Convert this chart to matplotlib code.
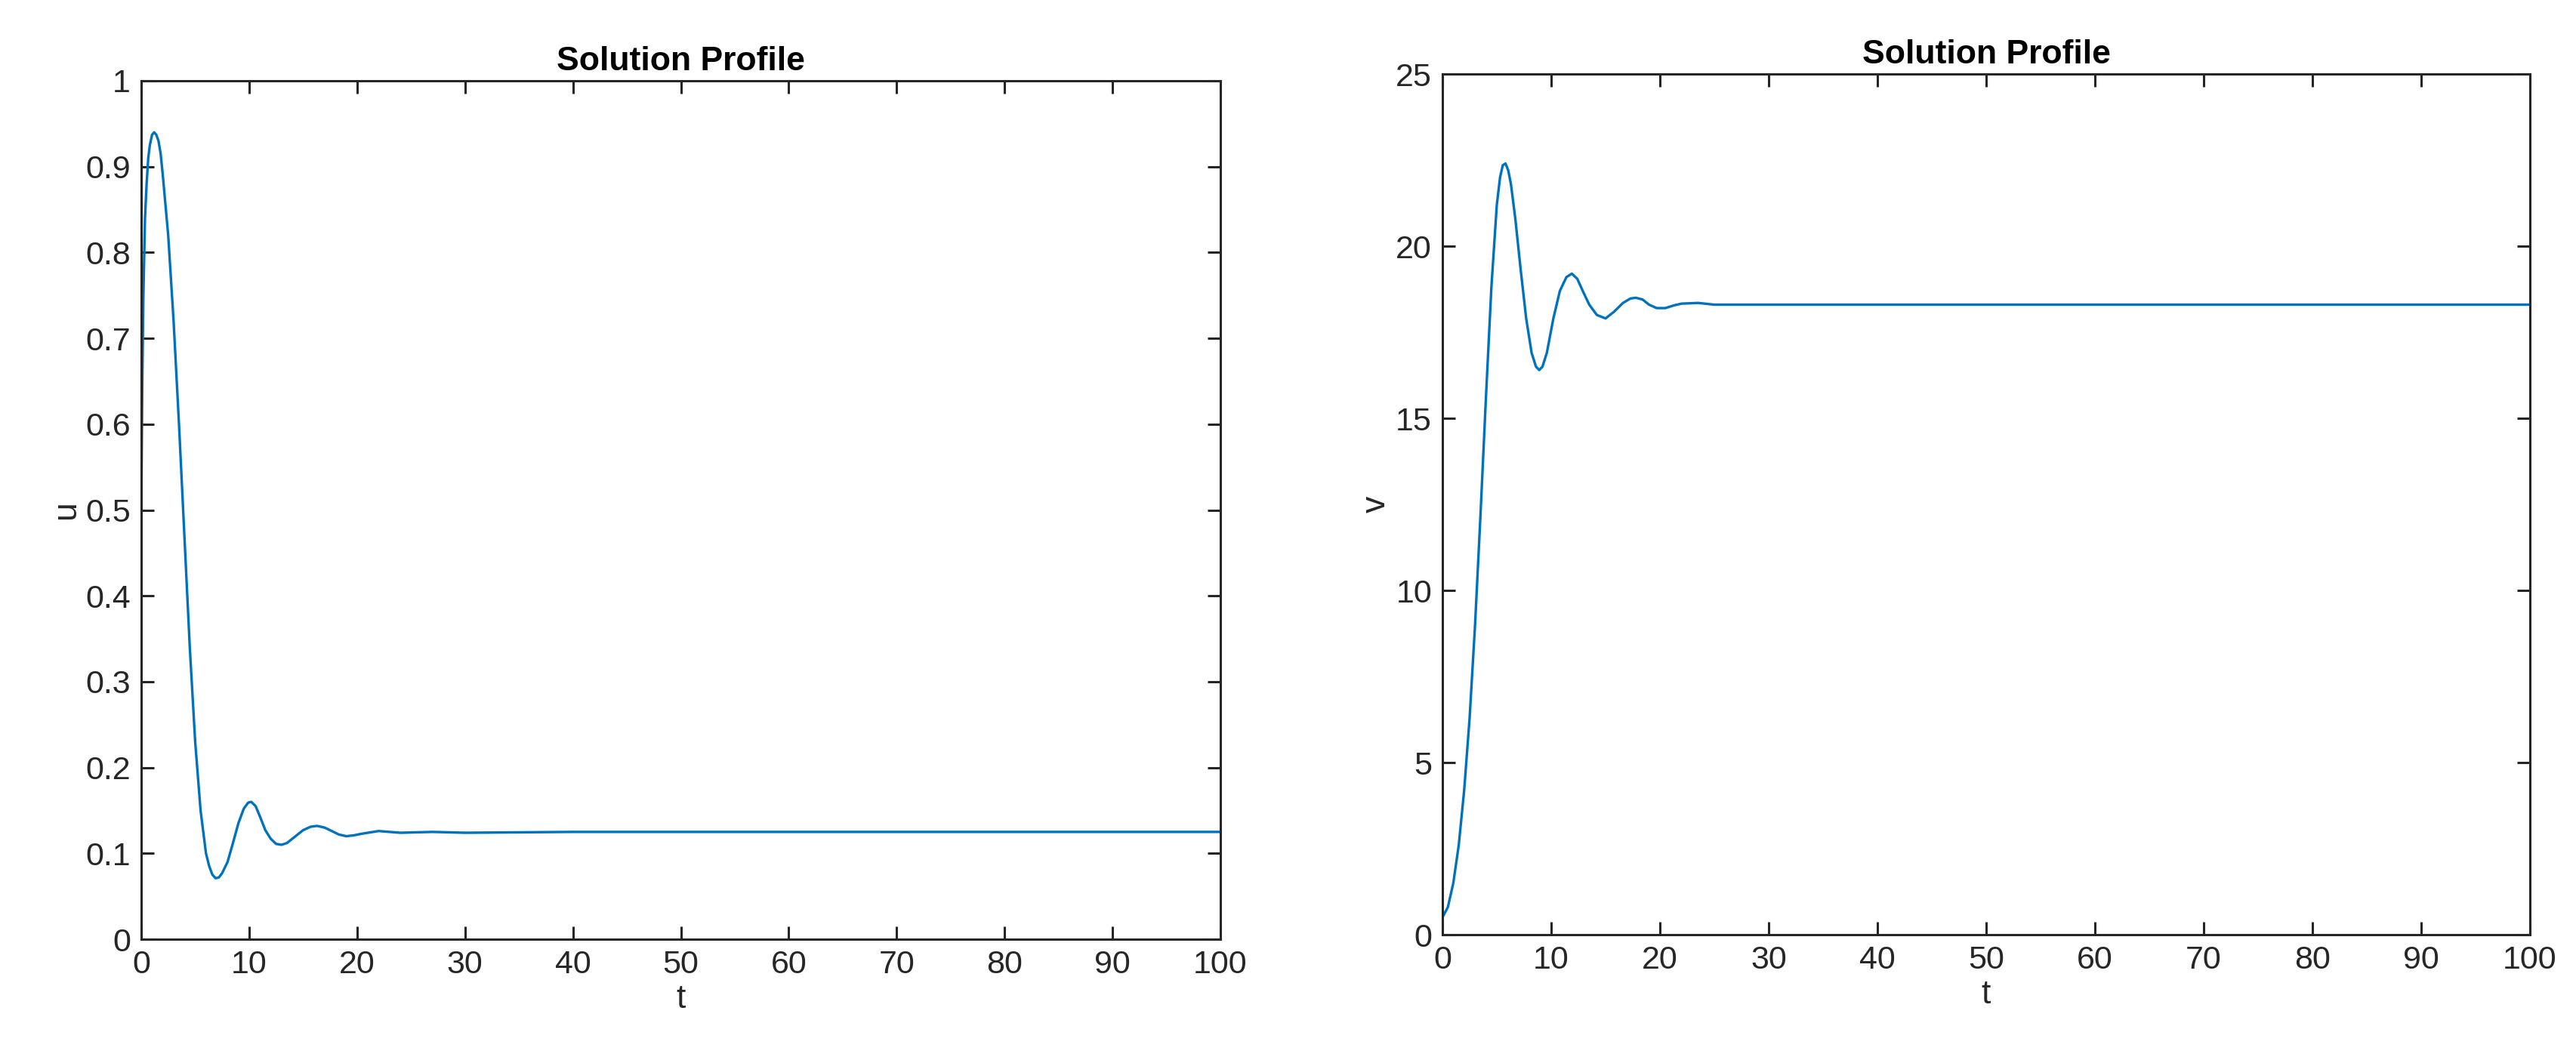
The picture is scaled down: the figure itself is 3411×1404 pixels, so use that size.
import matplotlib
matplotlib.use('Agg')
import matplotlib.pyplot as plt

# values
t_u = [0, 0.1, 0.2, 0.35, 0.5, 0.65, 0.8, 1.0, 1.2, 1.4, 1.6, 1.8, 2, 2.5, 3, 3.5, 4, 4.5, 5, 5.5, 6,
       6.3, 6.6, 6.9, 7.2, 7.5, 8, 8.5, 9, 9.5, 9.9, 10.2, 10.6, 11, 11.5, 12, 12.5, 13, 13.5, 14,
       15, 15.7, 16.3, 17, 17.5, 18.3, 19, 19.7, 20.5, 22, 24, 27, 30, 40, 50, 60, 70, 80, 90, 100]
u = [0.5, 0.65, 0.75, 0.84, 0.88, 0.91, 0.925, 0.937, 0.94, 0.937, 0.93, 0.915, 0.89, 0.82, 0.72,
     0.60, 0.47, 0.34, 0.23, 0.15, 0.10, 0.085, 0.075, 0.071, 0.072, 0.077, 0.09, 0.112, 0.135,
     0.152, 0.159, 0.16, 0.155, 0.143, 0.127, 0.117, 0.111, 0.11, 0.112, 0.117, 0.127, 0.131,
     0.132, 0.13, 0.127, 0.122, 0.12, 0.121, 0.123, 0.126, 0.124, 0.125, 0.124, 0.125, 0.125,
     0.125, 0.125, 0.125, 0.125, 0.125]

t_v = [0, 0.5, 1, 1.5, 2, 2.5, 3, 3.5, 4, 4.5, 5, 5.3, 5.55, 5.8, 6.05, 6.3, 6.7, 7.2, 7.7, 8.2,
       8.6, 8.9, 9.2, 9.6, 10.2, 10.8, 11.4, 11.9, 12.4, 12.9, 13.5, 14.2, 15, 15.8, 16.6, 17.3,
       17.8, 18.4, 19, 19.7, 20.5, 21.3, 22, 23.5, 25, 27, 30, 35, 40, 50, 60, 70, 80, 90, 100]
v = [0.5, 0.8, 1.5, 2.6, 4.2, 6.3, 9, 12.2, 15.6, 18.8, 21.2, 22.0, 22.35, 22.4, 22.2, 21.8, 20.8,
     19.3, 17.9, 16.9, 16.5, 16.4, 16.5, 16.9, 17.9, 18.7, 19.1, 19.2, 19.05, 18.7, 18.3, 18.0,
     17.9, 18.1, 18.35, 18.48, 18.5, 18.45, 18.3, 18.2, 18.2, 18.28, 18.33, 18.35, 18.3, 18.3,
     18.3, 18.3, 18.3, 18.3, 18.3, 18.3, 18.3, 18.3, 18.3]

plt.rcParams['font.family'] = ['Liberation Sans', 'DejaVu Sans']
W, H = 3411, 1404
fig = plt.figure(figsize=(W / 100, H / 100), dpi=100)

def setup(ax, ylabel, yticks, ylim):
    ax.set_xlim(0, 100)
    ax.set_ylim(*ylim)
    ax.set_xticks(range(0, 101, 10))
    ax.set_yticks(yticks)
    ax.tick_params(direction='in', top=True, right=True, length=12, width=2.2,
                   labelsize=31, colors='#262626', pad=10)
    for s in ax.spines.values():
        s.set_linewidth(2.2)
        s.set_color('#262626')
    ax.set_xlabel('t', fontsize=32, color='#262626')
    ax.set_ylabel(ylabel, fontsize=32, color='#262626')
    ax.set_title('Solution Profile', fontsize=32, fontweight='bold', pad=10)

ax1 = fig.add_axes([187 / W, 1 - 1244 / H, (1616 - 187) / W, (1244 - 107) / H])
ax1.plot(t_u, u, color='#0072BD', lw=2.4)
setup(ax1, 'u', [i / 10 for i in range(11)], (0, 1))
ax1.set_yticklabels(['0'] + [f'{i / 10:g}' for i in range(1, 10)] + ['1'])

ax2 = fig.add_axes([1910 / W, 1 - 1238 / H, (3350 - 1910) / W, (1238 - 98) / H])
ax2.plot(t_v, v, color='#0072BD', lw=2.4)
setup(ax2, 'v', range(0, 26, 5), (0, 25))

fig.savefig('out.png', dpi=100)
